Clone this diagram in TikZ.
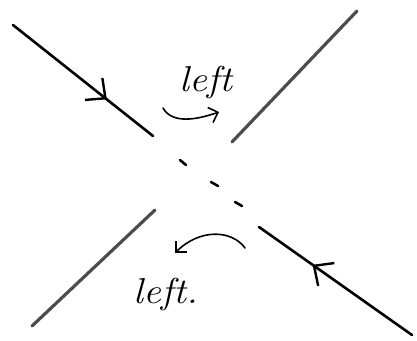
\documentclass[tikz,border=0pt]{standalone}
\usetikzlibrary{arrows.meta,decorations.markings,calc}
\begin{document}
\begin{tikzpicture}[x=1pt,y=-1pt,
  strand/.style={line width=2.6pt,line cap=round,black},
  grey strand/.style={line width=3.2pt,line cap=round,black!70},
  tick/.style={line width=2.6pt,line cap=round,black},
  turn/.style={line width=1.6pt,line cap=round,-{Straight Barb[length=8pt,width=16pt,line width=1.6pt]}},
  lbl/.style={font=\fontsize{36}{38}\selectfont\itshape},
  midarrow/.style={postaction={decorate},decoration={markings,
     mark=at position #1 with {\arrow{Straight Barb[length=15pt,width=28pt,line width=2.4pt]}}}}
]
\useasboundingbox (0,0) rectangle (417,340);
% strands
\coordinate (a1) at (13,25);   \coordinate (a2) at (153,136);
\coordinate (b1) at (357,11);  \coordinate (b2) at (232,142);
\coordinate (c1) at (155,210); \coordinate (c2) at (32,326);
\coordinate (d1) at (412,335); \coordinate (d2) at (259,227);
\draw[strand,midarrow=0.67] (a1) -- (a2);
\draw[grey strand] (b1) -- (b2);
\draw[grey strand] (c1) -- (c2);
\draw[strand,midarrow=0.65] (d1) -- (d2);
% dashed continuation
\coordinate (t1) at (183,162);
\coordinate (t2) at (215,183);
\coordinate (t3) at (239,203);
\draw[tick] ($(t1)+(-3,-2)$) -- ($(t1)+(3,3)$);
\draw[tick] ($(t2)+(-4,-1)$) -- ($(t2)+(3,3)$);
\draw[tick] ($(t3)+(-4,-1)$) -- ($(t3)+(3,3)$);
% curved arrows
\coordinate (u1) at (163,108); \coordinate (u2) at (219,112);
\draw[turn] (u1) .. controls (172,124) and (196,120) .. (u2);
\coordinate (v1) at (245,248); \coordinate (v2) at (175,253);
\draw[turn] (v1) .. controls (232,230) and (200,228) .. (v2);
% labels
\node[lbl] (L1) at (206,82) {\scalebox{1.1}[1]{left}};
\node[lbl] (L2) at (166,294) {\scalebox{1.1}[1]{left.}};
\end{tikzpicture}
\end{document}
